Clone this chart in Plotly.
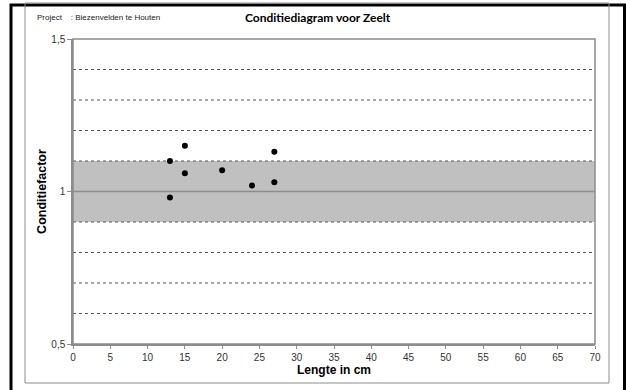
import plotly.graph_objects as go

# Data
lengte_cm = [13, 13, 15, 15, 20, 24, 27, 27]
conditiefactor = [1.10, 0.98, 1.15, 1.06, 1.07, 1.02, 1.13, 1.03]
grid_levels = [0.6, 0.7, 0.8, 0.9, 1.1, 1.2, 1.3, 1.4]
band_low, band_high = 0.9, 1.1
ref_level = 1.0
y_tick_vals = [0.5, 1.0, 1.5]
y_tick_text = ["0,5", "1", "1,5"]
x_tick_vals = list(range(0, 75, 5))

fig = go.Figure()
fig.add_trace(go.Scatter(
    x=lengte_cm, y=conditiefactor, mode="markers",
    marker=dict(color="black", size=6), showlegend=False, cliponaxis=False,
))

shapes = []
W, H = 626, 390
L, R, T, B = 73, 31, 39, 46
pw, ph = W - L - R, H - T - B

def px_x(px):
    return (px - L) / pw

def px_y(py):
    return (H - B - py) / ph

# outer black frame and gray inner frame
shapes.append(dict(type="rect", xref="paper", yref="paper",
                   x0=px_x(11), x1=px_x(624.5), y0=px_y(394), y1=px_y(5),
                   line=dict(color="black", width=3), layer="below"))
shapes.append(dict(type="rect", xref="paper", yref="paper",
                   x0=px_x(25), x1=px_x(609), y0=px_y(383), y1=px_y(3),
                   line=dict(color="#8c8c8c", width=1), layer="below"))
# shaded band
shapes.append(dict(type="rect", xref="paper", yref="y", x0=0, x1=1,
                   y0=band_low, y1=band_high, fillcolor="#c0c0c0",
                   line=dict(width=0), layer="below"))
for g in grid_levels:
    shapes.append(dict(type="line", xref="paper", yref="y", x0=0, x1=1,
                       y0=g, y1=g, line=dict(color="#555555", width=1, dash="dot"),
                       layer="below"))
shapes.append(dict(type="line", xref="paper", yref="y", x0=0, x1=1,
                   y0=ref_level, y1=ref_level, line=dict(color="#8c8c8c", width=1.5),
                   layer="below"))
# plot area border
shapes.append(dict(type="rect", xref="paper", yref="paper", x0=0, x1=1, y0=0, y1=1,
                   line=dict(color="#8c8c8c", width=1.5), layer="below"))

fig.update_layout(
    width=W, height=H,
    margin=dict(l=L, r=R, t=T, b=B),
    paper_bgcolor="white", plot_bgcolor="white",
    font=dict(family="Liberation Sans, Arial, sans-serif", size=10, color="#333333"),
    shapes=shapes,
    annotations=[
        dict(text="<b>Conditiediagram voor Zeelt</b>", xref="paper", yref="paper",
             x=px_x(318), y=px_y(18), xanchor="center", yanchor="middle", showarrow=False,
             font=dict(family="Lato, sans-serif", size=12, color="black")),
        dict(text="Project&nbsp;&nbsp;&nbsp;&nbsp;: Biezenvelden te Houten", xref="paper", yref="paper",
             x=px_x(35), y=px_y(18), xanchor="left", yanchor="middle", showarrow=False,
             font=dict(family="Liberation Sans, Arial, sans-serif", size=8, color="#222222")),
    ],
    xaxis=dict(
        range=[0, 70], tickmode="array", tickvals=x_tick_vals,
        ticks="outside", ticklen=3, tickcolor="#8c8c8c", tickwidth=1,
        showline=True, linecolor="#8c8c8c", linewidth=1.5,
        showgrid=False, zeroline=False,
        tickfont=dict(size=10),
        title=dict(text="<b>Lengte in cm</b>", standoff=0,
                   font=dict(size=12, color="black")),
    ),
    yaxis=dict(
        range=[0.5, 1.5], tickmode="array", tickvals=y_tick_vals, ticktext=y_tick_text,
        ticks="outside", ticklen=4, tickcolor="#8c8c8c", tickwidth=1,
        showline=True, linecolor="#8c8c8c", linewidth=1.5,
        showgrid=False, zeroline=False,
        tickfont=dict(size=10),
        title=dict(text="<b>Conditiefactor</b>", standoff=2,
                   font=dict(size=12.5, color="black")),
    ),
)

fig.write_html("out.html", config={"displayModeBar": False},
               post_script="document.body.style.margin='0';")
